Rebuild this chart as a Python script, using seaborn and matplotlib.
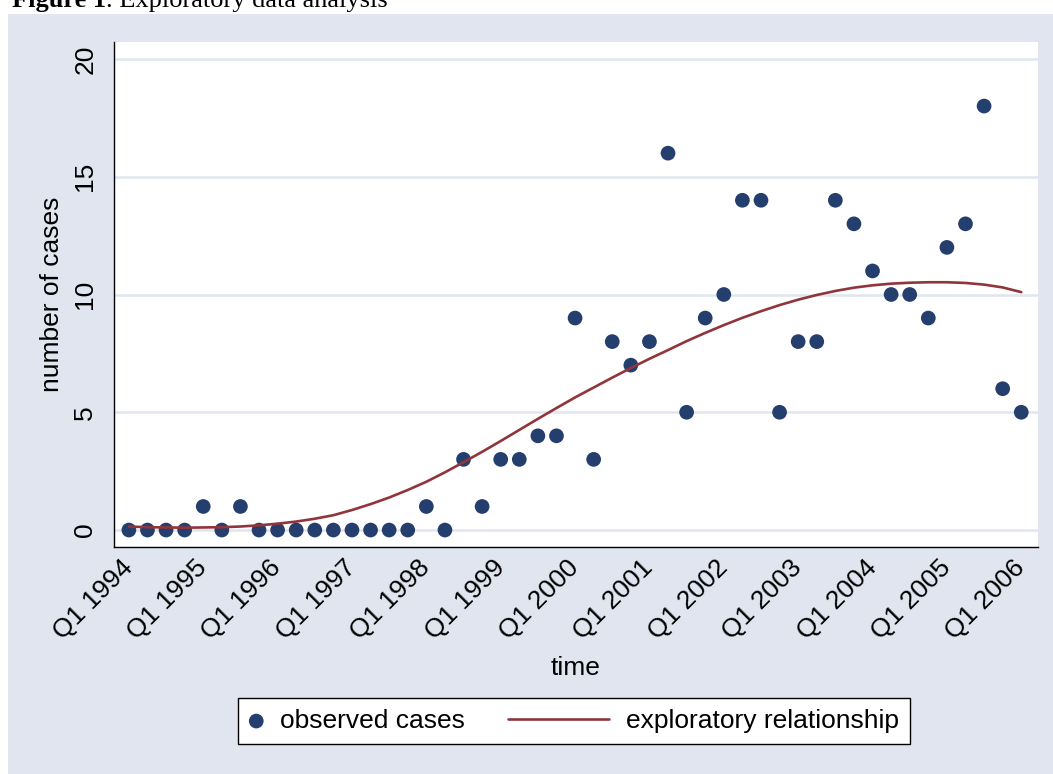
import numpy as np
import pandas as pd
import matplotlib
matplotlib.use("Agg")
import matplotlib.pyplot as plt
import seaborn as sns
from matplotlib.patches import Rectangle
from matplotlib.legend_handler import HandlerLine2D

# quarterly series, Q1 1994 .. Q1 2006
quarter = list(range(49))
cases = [0, 0, 0, 0, 1, 0, 1, 0,
         0, 0, 0, 0, 0, 0, 0, 0,
         1, 0, 3, 1, 3, 3, 4, 4,
         9, 3, 8, 7, 8, 16, 5, 9,
         10, 14, 14, 5, 8, 8, 14, 13,
         11, 10, 10, 9, 12, 13, 18, 6,
         5]
fitted = [0.15, 0.12, 0.11, 0.10, 0.11, 0.12, 0.15, 0.20,
          0.27, 0.36, 0.48, 0.63, 0.85, 1.10, 1.38, 1.70,
          2.05, 2.45, 2.88, 3.32, 3.78, 4.25, 4.72, 5.18,
          5.63, 6.05, 6.47, 6.88, 7.27, 7.64, 8.02, 8.37,
          8.70, 9.01, 9.29, 9.55, 9.78, 9.98, 10.15, 10.29,
          10.39, 10.46, 10.50, 10.52, 10.52, 10.49, 10.42, 10.30,
          10.10]
tick_years = list(range(1994, 2007))
tick_labels = [f"Q1 {y}" for y in tick_years]
y_ticks = [0, 5, 10, 15, 20]

df = pd.DataFrame({"quarter": quarter, "cases": cases, "fitted": fitted})

BG = "#E0E5EF"
NAVY = "#243F6D"
MAROON = "#90353B"
FS = 19

sns.set_theme(style="white")
plt.rcParams["font.family"] = ["Liberation Sans", "DejaVu Sans"]
plt.rcParams.update({"text.color": "black", "axes.labelcolor": "black",
                     "xtick.color": "black", "ytick.color": "black"})


class LongLineHandler(HandlerLine2D):
    # line sample longer than the handle box, drawn to the left of it
    def get_xdata(self, legend, xdescent, ydescent, width, height, fontsize):
        x = [-xdescent + width - 3.83 * fontsize, -xdescent + width]
        return x, [x[1]]


fig = plt.figure(figsize=(10.53, 7.74), dpi=100, facecolor="white")
W, H = 1053, 774
fig.patches.append(Rectangle((8 / W, 0), 1 - 8 / W, 1 - 14 / H,
                             transform=fig.transFigure, facecolor=BG,
                             edgecolor="none", zorder=-10))

ax = fig.add_axes([114 / W, 1 - 547 / H, (1038 - 114) / W, (547 - 42) / H])
ax.set_facecolor("white")
ax.set_zorder(1)

for yv in y_ticks:
    ax.axhline(yv, color=BG, lw=1.8, zorder=0)

sns.scatterplot(data=df, x="quarter", y="cases", ax=ax, color=NAVY, s=112,
                edgecolor="none", label="observed cases", zorder=3)
sns.lineplot(data=df, x="quarter", y="fitted", ax=ax, color=MAROON, lw=1.9,
             label="exploratory relationship", zorder=4)

ax.set_xlim(-0.8, 48.9)
ax.set_ylim(-0.72, 20.72)
ax.set_xticks(quarter[::4])
ax.set_xticklabels(tick_labels, rotation=45, ha="right", va="center",
                   rotation_mode="anchor", fontsize=FS)
ax.set_yticks(y_ticks)
ax.set_yticklabels([str(v) for v in y_ticks], rotation=90, va="center",
                   fontsize=FS)
ax.tick_params(axis="both", direction="out", length=5, width=1,
               color="black", labelcolor="black")
ax.tick_params(axis="x", pad=7)
ax.tick_params(axis="y", pad=7)

for side in ("top", "right"):
    ax.spines[side].set_visible(False)
for side in ("left", "bottom"):
    ax.spines[side].set_color("black")
    ax.spines[side].set_linewidth(1)

ax.set_xlabel("time", fontsize=FS, labelpad=9)
ax.set_ylabel("number of cases", fontsize=FS, labelpad=7)

handles, labels = ax.get_legend_handles_labels()
ax.get_legend().remove()
leg = fig.legend(handles, labels, loc="center", ncol=2,
                 bbox_to_anchor=(574 / W, 1 - 721 / H),
                 bbox_transform=fig.transFigure, fontsize=FS,
                 handlelength=0.55, handletextpad=0.64, columnspacing=4.9,
                 borderpad=0.4, frameon=True, fancybox=False,
                 handler_map={handles[1]: LongLineHandler()})
leg.get_frame().set_edgecolor("black")
leg.get_frame().set_linewidth(1)
leg.get_frame().set_facecolor("white")
leg.get_frame().set_alpha(1)

# figure caption, cut by the top edge as in the source
cap = fig.text(12 / W, 1 - 7 / H, "Figure 1", fontsize=FS,
               family=["Liberation Serif", "DejaVu Serif"], weight="bold",
               va="baseline", ha="left")
fig.canvas.draw()
bb = cap.get_window_extent()
fig.text(bb.x1 / W, 1 - 7 / H, ". Exploratory data analysis", fontsize=FS,
         family=["Liberation Serif", "DejaVu Serif"], va="baseline", ha="left")

fig.savefig("out.png", dpi=100, facecolor=fig.get_facecolor())
